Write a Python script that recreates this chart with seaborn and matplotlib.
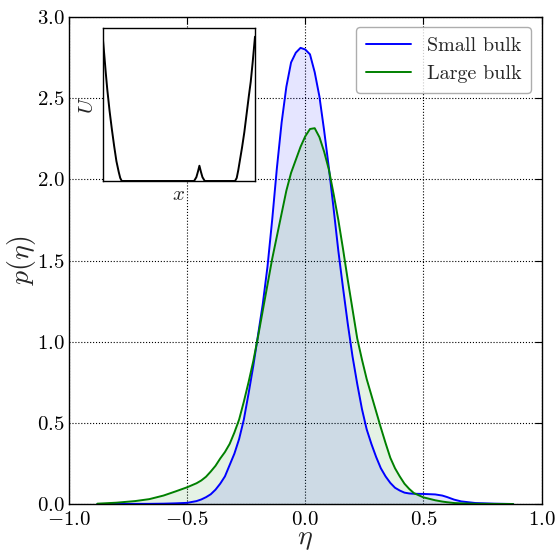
import matplotlib
matplotlib.use("Agg")
import matplotlib.pyplot as plt
import seaborn as sns
import pandas as pd

# ---------------- data ----------------
eta = [-0.88, -0.80, -0.72, -0.66, -0.60, -0.55, -0.50, -0.46, -0.44, -0.42,
       -0.40, -0.38, -0.36, -0.34, -0.32, -0.30, -0.28, -0.26, -0.24, -0.22,
       -0.20, -0.18, -0.16, -0.14, -0.12, -0.10, -0.08, -0.06, -0.04, -0.02,
       0.00, 0.02, 0.04, 0.06, 0.08, 0.10, 0.12, 0.14, 0.16, 0.18,
       0.20, 0.22, 0.24, 0.26, 0.28, 0.30, 0.32, 0.34, 0.36, 0.38,
       0.40, 0.42, 0.44, 0.46, 0.50, 0.55, 0.58, 0.60, 0.63, 0.66,
       0.72, 0.80, 0.88]

small_bulk = [0.0, 0.0, 0.001, 0.001, 0.002, 0.004, 0.007, 0.018, 0.028, 0.042,
              0.060, 0.088, 0.125, 0.17, 0.24, 0.31, 0.40, 0.52, 0.68, 0.85,
              1.04, 1.23, 1.46, 1.75, 2.07, 2.35, 2.57, 2.72, 2.78, 2.81,
              2.80, 2.77, 2.66, 2.51, 2.30, 2.07, 1.82, 1.56, 1.33, 1.11,
              0.91, 0.74, 0.585, 0.46, 0.37, 0.29, 0.22, 0.17, 0.13, 0.10,
              0.083, 0.070, 0.065, 0.063, 0.062, 0.059, 0.052, 0.043, 0.027, 0.016,
              0.006, 0.002, 0.0]

large_bulk = [0.002, 0.008, 0.018, 0.030, 0.052, 0.077, 0.103, 0.128, 0.145, 0.168,
              0.20, 0.235, 0.28, 0.32, 0.37, 0.44, 0.52, 0.63, 0.75, 0.88,
              1.03, 1.19, 1.35, 1.51, 1.65, 1.79, 1.93, 2.04, 2.12, 2.20,
              2.265, 2.31, 2.315, 2.26, 2.17, 2.06, 1.91, 1.75, 1.57, 1.38,
              1.20, 1.02, 0.89, 0.77, 0.67, 0.57, 0.47, 0.375, 0.285, 0.22,
              0.17, 0.125, 0.093, 0.067, 0.041, 0.023, 0.015, 0.011, 0.006, 0.004,
              0.0015, 0.0005, 0.0]

series_names = ["Small bulk", "Large bulk"]
series_colors = ["b", "g"]

# inset potential U(x) (normalised coordinates)
pot_x = [0.0, 0.01, 0.02, 0.03, 0.045, 0.06, 0.075, 0.09, 0.105, 0.115, 0.125,
         0.60, 0.615, 0.625, 0.635, 0.645, 0.655, 0.67,
         0.869, 0.88, 0.89, 0.90, 0.915, 0.93, 0.945, 0.96, 0.972, 0.985, 1.0]
pot_u = [0.945, 0.83, 0.71, 0.60, 0.46, 0.34, 0.23, 0.13, 0.06, 0.02, 0.0,
         0.0, 0.025, 0.06, 0.10, 0.06, 0.025, 0.0,
         0.0, 0.02, 0.07, 0.13, 0.22, 0.32, 0.44, 0.56, 0.65, 0.78, 0.945]

x_ticks = [-1.0, -0.5, 0.0, 0.5, 1.0]
y_ticks = [0.0, 0.5, 1.0, 1.5, 2.0, 2.5, 3.0]

# ---------------- style ----------------
sns.set_style("white")
plt.rcParams.update({
    "font.family": "serif",
    "font.serif": ["cmr10", "DejaVu Serif"],
    "mathtext.fontset": "cm",
    "axes.formatter.use_mathtext": True,
    "axes.unicode_minus": True,
    "xtick.direction": "in",
    "ytick.direction": "in",
    "xtick.top": True,
    "ytick.right": True,
    "axes.edgecolor": "black",
    "axes.linewidth": 1.0,
    "lines.solid_joinstyle": "round",
})

fig = plt.figure(figsize=(5.56, 5.52), dpi=100)
ax = fig.add_axes([69 / 556, 1 - 504 / 552, 472.5 / 556, 487 / 552])

df = pd.DataFrame({"eta": eta, "Small bulk": small_bulk, "Large bulk": large_bulk})
for name, col in zip(series_names, series_colors):
    sns.lineplot(data=df, x="eta", y=name, color=col, lw=1.4, ax=ax, label=name)
    ax.fill_between(df["eta"], df[name], color=col, alpha=0.1, lw=0)

ax.set_xlim(-1, 1)
ax.set_ylim(0, 3)
ax.set_xticks(x_ticks)
ax.set_yticks(y_ticks)
ax.tick_params(labelsize=15, length=5, width=0.8, colors="black")
ax.tick_params(axis="x", pad=5)
ax.tick_params(axis="y", pad=3)
ax.grid(True, color="black", linestyle=":", linewidth=0.8)
for s in ax.spines.values():
    s.set_color("black")
ax.set_xlabel(r"$\eta$", fontsize=20, labelpad=-2)
ax.set_ylabel(r"$p(\eta)$", fontsize=20, labelpad=-1)

leg = ax.legend(loc="upper right", fontsize=14.5, frameon=True, fancybox=True,
                handlelength=2.2, borderpad=0.5, labelspacing=0.5)
leg.get_frame().set_edgecolor("#999999")
leg.get_frame().set_linewidth(1.0)

# inset
axin = fig.add_axes([102.7 / 556, 1 - 181 / 552, 152.3 / 556, 152.7 / 552])
sns.lineplot(x=pot_x, y=pot_u, color="black", lw=1.4, ax=axin, sort=False)
axin.set_xlim(0, 1)
axin.set_ylim(0, 1)
axin.set_xticks([])
axin.set_yticks([])
axin.set_facecolor("white")
for s in axin.spines.values():
    s.set_color("black")
    s.set_linewidth(1.0)
axin.set_xlabel(r"$x$", fontsize=15, labelpad=4)
axin.set_ylabel(r"$U$", fontsize=15, labelpad=4)

fig.savefig("out.png", dpi=100)
